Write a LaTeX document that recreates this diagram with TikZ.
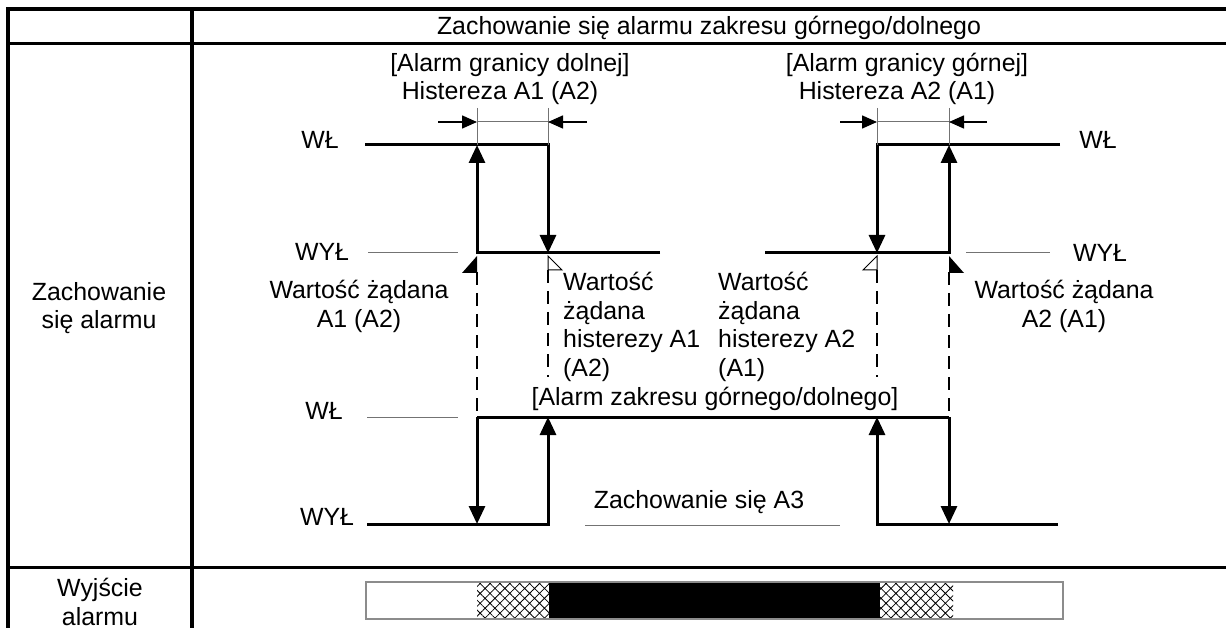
\documentclass[tikz,border=0pt]{standalone}
\usepackage{fontspec}
\setmainfont{Liberation Sans}
\usetikzlibrary{arrows.meta,patterns.meta}

\tikzset{
  lbl/.style={inner sep=0pt,font=\fontsize{24.9}{28.5}\selectfont},
  tabline/.style={line width=3.5pt},
  sig/.style={line width=3pt},
  sigarr/.style={sig,-{Triangle[width=16pt,length=18pt]}},
  guide/.style={line width=1pt,black!55},
  setline/.style={line width=1.3pt,dash pattern=on 13pt off 8pt},
  dimarr/.style={line width=1.5pt,-{Triangle[width=13pt,length=15pt]}},
  hatchbox/.style={pattern={Hatch[angle=45,distance=7pt,line width=0.8pt]}},
}

\begin{document}
\begin{tikzpicture}[x=1pt,y=-1pt]
    \useasboundingbox (0,0) rectangle (1226,628);
    % table
    \coordinate (TL) at (8,9);
    \coordinate (TR) at (1226,9);
    \coordinate (BL) at (8,628);
    \draw[tabline] (TR) -- (TL) -- (BL);
    \draw[tabline] (192,9) -- (192,628);
    \draw[tabline] (8,43.5) -- (1226,43.5);
    \draw[tabline] (8,567.5) -- (1226,567.5);
    % points
    \coordinate (Ha) at (477,145);
    \coordinate (Hb) at (548,145);
    \coordinate (Hc) at (877,145);
    \coordinate (Hd) at (949,145);
    \coordinate (La) at (477,253);
    \coordinate (Lb) at (548,253);
    \coordinate (Lc) at (877,253);
    \coordinate (Ld) at (949,253);
    \coordinate (Ma) at (477,417);
    \coordinate (Mb) at (548,417);
    \coordinate (Mc) at (877,417);
    \coordinate (Md) at (949,417);
    \coordinate (Na) at (477,524);
    \coordinate (Nb) at (548,524);
    \coordinate (Nc) at (877,524);
    \coordinate (Nd) at (949,524);
    \coordinate (H0) at (365,145);
    \coordinate (H9) at (1060,145);
    \coordinate (L5) at (660,253);
    \coordinate (L6) at (765,253);
    \coordinate (N0) at (367,524);
    \coordinate (N9) at (1058,524);
    \coordinate (Ta) at (477,108);
    \coordinate (Tb) at (548,108);
    \coordinate (Tc) at (877,108);
    \coordinate (Td) at (949,108);
    \coordinate (Ka) at (477,122);
    \coordinate (Kb) at (548,122);
    \coordinate (Kc) at (877,122);
    \coordinate (Kd) at (949,122);
    \coordinate (K0) at (438,122);
    \coordinate (K1) at (587,122);
    \coordinate (K2) at (840,122);
    \coordinate (K3) at (987,122);
    \coordinate (Sa) at (477,272);
    \coordinate (Sb) at (548,270);
    \coordinate (Sc) at (877,270);
    \coordinate (Sd) at (949,272);
    \coordinate (Eb) at (548,377);
    \coordinate (Ec) at (877,377);
    % signals
    \draw[sigarr] (H0) -- (Hb) -- (Lb);
    \draw[sigarr] (L5) -- (La) -- (Ha);
    \draw[sigarr] (H9) -- (Hc) -- (Lc);
    \draw[sigarr] (L6) -- (Ld) -- (Hd);
    \draw[sig] (Ma) -- (Md);
    \draw[sigarr] (Ma) -- (Na);
    \draw[sigarr] (Md) -- (Nd);
    \draw[sigarr] (N0) -- (Nb) -- (Mb);
    \draw[sigarr] (N9) -- (Nc) -- (Mc);
    % hysteresis width
    \draw[guide] (Ta) -- (Ha);
    \draw[guide] (Tb) -- (Hb);
    \draw[guide] (Tc) -- (Hc);
    \draw[guide] (Td) -- (Hd);
    \draw[guide] (Ka) -- (Kb);
    \draw[guide] (Kc) -- (Kd);
    \draw[dimarr] (K0) -- (Ka);
    \draw[dimarr] (K1) -- (Kb);
    \draw[dimarr] (K2) -- (Kc);
    \draw[dimarr] (K3) -- (Kd);
    % set points
    \fill (La) ++(0,3) -- ++(0,17) -- ++(-15,0) -- cycle;
    \fill (Ld) ++(0,3) -- ++(0,17) -- ++(15,0) -- cycle;
    \draw[line width=1pt,fill=white] (Lb) ++(0,3) -- ++(0,14) -- ++(14,0) -- cycle;
    \draw[line width=1pt,fill=white] (Lc) ++(0,3) -- ++(0,14) -- ++(-14,0) -- cycle;
    \draw[setline] (Sa) -- (Ma);
    \draw[setline] (Sb) -- (Eb);
    \draw[setline] (Sc) -- (Ec);
    \draw[setline] (Sd) -- (Md);
    % level guides
    \draw[guide] (368,253) -- (458,253);
    \draw[guide] (966,253) -- (1050,253);
    \draw[guide] (367,417) -- (458,417);
    \draw[guide] (585,525) -- (840,525);
    % texts
    \node[lbl,anchor=base] (head) at (709,35) {Zachowanie się alarmu zakresu górnego/dolnego};
    \node[lbl,anchor=north,align=center] (rowa) at (99,282) {Zachowanie\\się alarmu};
    \node[lbl,anchor=north,align=center] (rowb) at (100,578) {Wyjście\\alarmu};
    \node[lbl,anchor=base] (lowa) at (510,72) {[Alarm granicy dolnej]};
    \node[lbl,anchor=base] (lowb) at (500,100) {Histereza A1 (A2)};
    \node[lbl,anchor=base] (higha) at (907,72) {[Alarm granicy górnej]};
    \node[lbl,anchor=base] (highb) at (897,100) {Histereza A2 (A1)};
    \node[lbl,anchor=base] (on1) at (320,149) {WŁ};
    \node[lbl,anchor=base] (off1) at (322,261) {WYŁ};
    \node[lbl,anchor=base] (on2) at (1098,149) {WŁ};
    \node[lbl,anchor=base] (off2) at (1100,262) {WYŁ};
    \node[lbl,anchor=base] (on3) at (324,419) {WŁ};
    \node[lbl,anchor=base] (off3) at (327,525) {WYŁ};
    \node[lbl,anchor=north,align=center] (spa) at (359,280) {Wartość żądana\\A1 (A2)};
    \node[lbl,anchor=north,align=center] (spd) at (1064,280) {Wartość żądana\\A2 (A1)};
    \node[lbl,anchor=north west,align=left] (spb) at (563,272) {Wartość\\żądana\\histerezy A1\\(A2)};
    \node[lbl,anchor=north west,align=left] (spc) at (718,272) {Wartość\\żądana\\histerezy A2\\(A1)};
    \node[lbl,anchor=base] (band) at (715,405) {[Alarm zakresu górnego/dolnego]};
    \node[lbl,anchor=base] (athree) at (699,508) {Zachowanie się A3};
    % output bar
    \fill[hatchbox] (477,582) rectangle (549,619);
    \fill (549,582) rectangle (880,619);
    \fill[hatchbox] (880,582) rectangle (953,619);
    \draw[black!45,line width=1.3pt] (366,582) rectangle (1063,619);
\end{tikzpicture}
\end{document}
